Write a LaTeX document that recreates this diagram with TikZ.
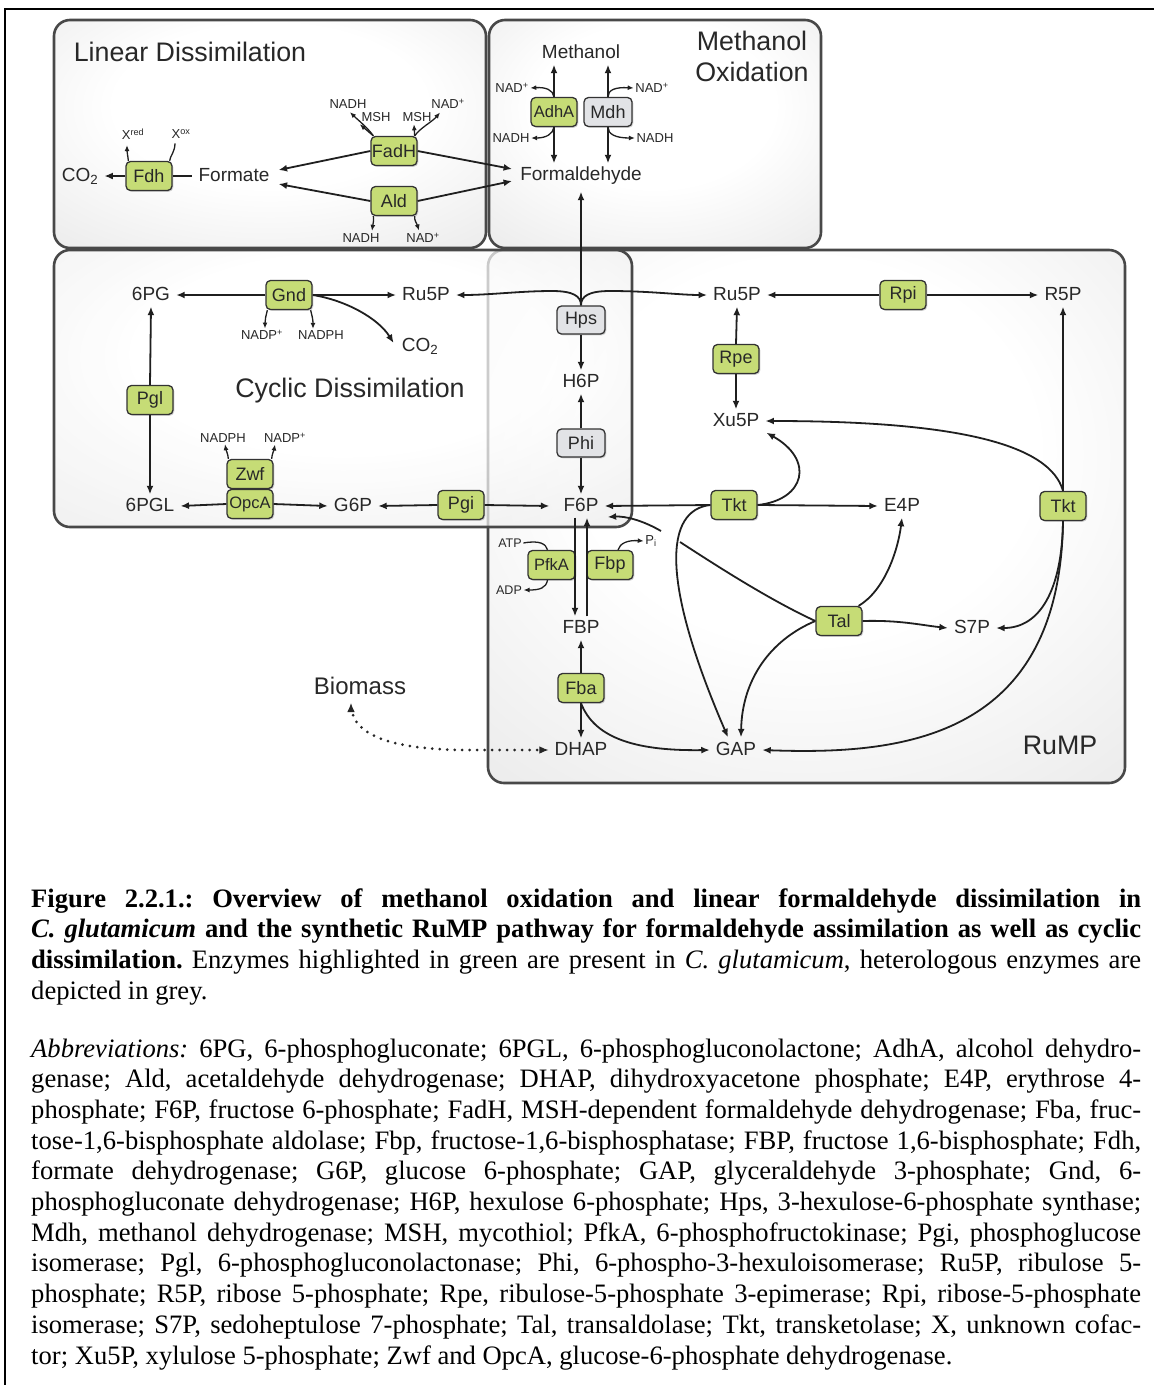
\documentclass[tikz,border=0pt]{standalone}
\usepackage{fontspec}
\setmainfont{Liberation Serif}
\newfontfamily\sfd{Liberation Sans}
\usetikzlibrary{arrows.meta,calc,shadows}
\definecolor{enzg}{RGB}{198,220,118}
\definecolor{enzgr}{RGB}{226,227,230}
\definecolor{boxln}{RGB}{72,72,72}
\definecolor{txt}{RGB}{40,40,40}
\newcommand\fsz[1]{\fontsize{#1}{#1}\selectfont}
\pgfdeclareradialshading{boxshade}{\pgfpoint{0bp}{8bp}}{color(0bp)=(white); color(18bp)=(white); color(45bp)=(black!10); color(60bp)=(black!17); color(80bp)=(black!24)}
\frenchspacing
\begin{document}
\begin{tikzpicture}[x=1pt,y=-1pt,
  region/.style={rounded corners=16pt, line width=2.6pt, draw=boxln, shading=boxshade},
  enz/.style={draw=black!80, line width=1.3pt, rounded corners=4.5pt, fill=enzg, minimum width=46pt, minimum height=29pt, inner sep=0pt, font=\sfd\fsz{18}, text=txt, drop shadow={shadow xshift=1.3pt, shadow yshift=-1.3pt, opacity=0.35}},
  henz/.style={enz, fill=enzgr},
  met/.style={font=\sfd\fsz{19}, text=txt, inner xsep=6pt, inner ysep=3pt, text height=13.5pt, text depth=3.5pt},
  cof/.style={font=\sfd\fsz{13}, text=txt, inner sep=1.5pt},
  ttl/.style={font=\sfd\fsz{26.8}, text=txt, inner sep=0pt},
  arr/.style={line width=1.8pt, draw=black!88, -{Latex[length=8.5pt,width=7pt]}},
  ln/.style={line width=1.8pt, draw=black!88},
  carr/.style={line width=1.3pt, draw=black!88, -{Latex[length=6pt,width=5pt]}},
  cln/.style={line width=1.3pt, draw=black!88},
  dots/.style={line width=3pt, draw=black!85, dash pattern=on 0pt off 7.5pt, line cap=round},
  capt/.style={anchor=base west, inner sep=0pt, font=\fsz{26.6}},
]
\useasboundingbox (0,0) rectangle (1154,1385);
\fill[white] (0,0) rectangle (1154,1385);
\draw[line width=2pt] (5,1385) -- (5,9) -- (1154,9);

% regions
\shadedraw[region] (488,250) rectangle (1125,783);
\shadedraw[region, fill opacity=0.72] (54,250) rectangle (632,527);
\shadedraw[region] (54,20) rectangle (486,248);
\shadedraw[region] (489,20) rectangle (821,248);

% titles
\node[ttl] (tld) at (190,52) {Linear Dissimilation};
\node[ttl] (tmo1) at (752,41) {Methanol};
\node[ttl] (tmo2) at (752,72) {Oxidation};
\node[ttl] (tcd) at (350,391) {Cyclic Dissimilation};
\node[ttl] (trm) at (1060,745) {RuMP};
\node[font=\sfd\fsz{24}, text=txt, inner sep=3pt] (bio) at (360,686) {Biomass};

% linear dissimilation
\node[met] (co2a) at (80,176) {CO\textsubscript{2}};
\node[enz] (fdh) at (149,176) {Fdh};
\node[met] (formate) at (234,176) {Formate};
\node[cof] (xred) at (133,134) {X\textsuperscript{red}};
\node[cof] (xox) at (181,134) {X\textsuperscript{ox}};
\node[enz] (fadh) at (394,151) {FadH};
\node[enz] (ald) at (394,201) {Ald};
\node[cof] (nadh1) at (348,104) {NADH};
\node[cof] (msh1) at (376,117) {MSH};
\node[cof] (msh2) at (417,117) {MSH};
\node[cof] (nad1) at (448,104) {NAD\textsuperscript{+}};
\node[cof] (nadh2) at (361,238) {NADH};
\node[cof] (nad2) at (423,238) {NAD\textsuperscript{+}};

% methanol oxidation
\node[met] (meoh) at (581,53) {Methanol};
\node[enz, font=\sfd\fsz{16.5}] (adha) at (554,112) {AdhA};
\node[henz, minimum width=48pt] (mdh) at (608,112) {Mdh};
\node[cof] (nad3) at (512,88) {NAD\textsuperscript{+}};
\node[cof] (nadh3) at (511,138) {NADH};
\node[cof] (nad4) at (652,88) {NAD\textsuperscript{+}};
\node[cof] (nadh4) at (655,138) {NADH};
\node[met] (fald) at (581,175) {Formaldehyde};

% cyclic dissimilation
\node[met] (pg6) at (151,295) {6PG};
\node[enz] (gnd) at (289,295) {Gnd};
\node[met] (ru5pa) at (426,295) {Ru5P};
\node[cof] (nadp5) at (262,335) {NADP\textsuperscript{+}};
\node[cof] (nadph5) at (321,335) {NADPH};
\node[met] (co2b) at (420,346) {CO\textsubscript{2}};
\node[enz] (pgl) at (150,400) {Pgl};
\node[met] (pgl6) at (150,506) {6PGL};
\node[enz] (zwf) at (250,474) {Zwf};
\node[enz, font=\sfd\fsz{16.5}] (opca) at (250,504) {OpcA};
\node[cof] (nadph6) at (223,438) {NADPH};
\node[cof] (nadp6) at (285,438) {NADP\textsuperscript{+}};
\node[met] (g6p) at (353,506) {G6P};
\node[enz] (pgi) at (461,505) {Pgi};

% RuMP
\node[henz, minimum width=48pt, minimum height=28pt] (hps) at (581,320) {Hps};
\node[met] (h6p) at (581,382) {H6P};
\node[henz, minimum width=48pt, minimum height=28pt] (phi) at (581,443) {Phi};
\node[met] (f6p) at (581,506) {F6P};
\node[met] (ru5pb) at (737,295) {Ru5P};
\node[enz] (rpi) at (903,295) {Rpi};
\node[met] (r5p) at (1063,295) {R5P};
\node[enz] (rpe) at (736,359) {Rpe};
\node[met] (xu5p) at (736,421) {Xu5P};
\node[enz] (tkt1) at (734,505) {Tkt};
\node[met] (e4p) at (902,506) {E4P};
\node[enz] (tkt2) at (1063,506) {Tkt};
\node[enz, font=\sfd\fsz{16.5}, minimum width=47pt] (pfka) at (551.5,565) {PfkA};
\node[enz] (fbp) at (610,565) {Fbp};
\node[cof, font=\sfd\fsz{12.5}] (atp) at (510,543) {ATP};
\node[cof, font=\sfd\fsz{12.5}] (adp) at (509,590) {ADP};
\node[cof] (pi) at (651,541) {P\textsubscript{i}};
\node[met] (fbpm) at (581,628) {FBP};
\node[enz] (tal) at (839,621) {Tal};
\node[met] (s7p) at (972,628) {S7P};
\node[enz] (fba) at (581,688) {Fba};
\node[met] (dhap) at (581,750) {DHAP};
\node[met] (gap) at (736,750) {GAP};

% ---- connectors: linear
\draw[arr] (fdh.west) -- (co2a.east);
\draw[ln] (fdh.east) -- (formate.west);
\draw[carr] ($(fdh.north west)+(3,0)$) .. controls (128,156) and (127,153) .. ($(xred.south)+(-6,4)$);
\draw[cln] ($(fdh.north east)+(-3,0)$) .. controls (170,156) and (175,152) .. ($(xox.south)+(-6,3)$);
\draw[arr] (fadh.west) -- ($(formate.east)+(3,-6)$);
\draw[arr] (ald.west) -- ($(formate.east)+(3,8)$);
\draw[arr] (fadh.east) -- ($(fald.west)+(-2,-6)$);
\draw[arr] (ald.east) -- ($(fald.west)+(-2,6)$);
\draw[carr] ($(fadh.north west)+(3,0)$) .. controls (368,128) and (358,120) .. ($(nadh1.south)+(2,2)$);
\draw[carr] ($(fadh.north west)+(3,0)$) -- ($(msh1.south west)+(0,1)$);
\draw[carr] ($(fadh.north east)+(-3,0)$) -- ($(msh2.south)+(-3,1)$);
\draw[carr] ($(fadh.north east)+(-3,0)$) .. controls (420,128) and (432,122) .. ($(nad1.south)+(-8,2)$);
\draw[carr] ($(ald.south west)+(3,0)$) .. controls (374,220) and (373,224) .. ($(nadh2.north)+(11,-1)$);
\draw[carr] ($(ald.south east)+(-3,0)$) .. controls (414,220) and (417,224) .. ($(nad2.north)+(-4,-1)$);

% ---- methanol oxidation
\draw[arr] (adha.north) -- (adha.north |- meoh.south);
\draw[arr] (adha.south) -- (adha.south |- fald.north);
\draw[arr] (mdh.north) -- (mdh.north |- meoh.south);
\draw[arr] (mdh.south) -- (mdh.south |- fald.north);
\draw[carr] (adha.north) .. controls (553,90) and (546,87) .. (nad3.east);
\draw[carr] (adha.south) .. controls (553,134) and (546,138) .. (nadh3.east);
\draw[carr] (mdh.north) .. controls (608,90) and (615,87) .. (nad4.west);
\draw[carr] (mdh.south) .. controls (608,134) and (615,138) .. (nadh4.west);
\draw[arr] (hps.north) -- ($(fald.south)+(0,5)$);
\draw[arr] (hps.north) .. controls (581,296) and (573,291) .. (552,291) .. controls (520,291) and (490,295) .. (ru5pa.east);
\draw[arr] (hps.north) .. controls (581,296) and (589,291) .. (610,291) .. controls (650,291) and (680,295) .. (ru5pb.west);

% ---- cyclic
\draw[arr] (gnd.west) -- (pg6.east);
\draw[arr] (gnd.east) -- (ru5pa.west);
\draw[arr] (gnd.east) .. controls (345,300) and (378,318) .. ($(co2b.west)+(-2,-3)$);
\draw[carr] ($(gnd.south west)+(2,0)$) .. controls (266,316) and (265,319) .. ($(nadp5.north)+(3,0)$);
\draw[carr] ($(gnd.south east)+(-2,0)$) .. controls (312,316) and (313,319) .. ($(nadph5.north)+(-8,0)$);
\draw[arr] (pgl.north) -- (pg6.south);
\draw[arr] (pgl.south) -- (pgl6.north);
\draw[carr] ($(zwf.north west)+(2,0)$) .. controls (228,454) and (226,450) .. ($(nadph6.south)+(2,0)$);
\draw[carr] ($(zwf.north east)+(-2,0)$) .. controls (272,454) and (274,450) .. ($(nadp6.south)+(-10,0)$);
\draw[arr] (opca.west) -- (pgl6.east);
\draw[arr] (opca.east) -- (g6p.west);
\draw[arr] (pgi.west) -- (g6p.east);
\draw[arr] (pgi.east) -- ($(f6p.west)+(-8,0)$);

% ---- RuMP
\draw[arr] (hps.south) -- (h6p.north);
\draw[arr] (phi.north) -- (h6p.south);
\draw[arr] (phi.south) -- (f6p.north);
\draw[arr] (rpi.west) -- (ru5pb.east);
\draw[arr] (rpi.east) -- (r5p.west);
\draw[arr] (rpe.north) -- (ru5pb.south);
\draw[arr] (rpe.south) -- (xu5p.north);
\draw[arr] (tkt1.west) -- (f6p.east);
\draw[arr] (tkt1.east) -- (e4p.west);
\draw[arr] (tkt1.east) .. controls (805,500) and (815,460) .. ($(xu5p.south east)+(1,0)$);
\draw[arr] (tkt1.west) .. controls (665,510) and (660,580) .. ($(gap.north)+(-8,-1)$);
\draw[arr] (tkt2.north) -- (r5p.south);
\draw[arr] (tkt2.north) .. controls (1050,445) and (960,421) .. (xu5p.east);
\draw[arr] (tkt2.south) .. controls (1062,590) and (1040,628) .. (s7p.east);
\draw[arr] (tkt2.south) .. controls (1060,740) and (900,755) .. (gap.east);
\draw[arr] (tal.east) .. controls (900,620) and (920,625) .. (s7p.west);
\draw[arr] ($(tal.north east)+(-4,0)$) .. controls (885,590) and (898,550) .. (e4p.south);
\draw[arr] (tal.west) .. controls (770,640) and (742,680) .. ($(gap.north)+(5,-1)$);
\coordinate (brk1) at (680,542);
\coordinate (brk2) at (661,531);
\draw[ln] (tal.west) .. controls (770,600) and (720,568) .. (brk1);
\draw[arr] (brk2) .. controls (642,520) and (625,516) .. ($(f6p.east)+(3,11)$);
\draw[arr] ($(f6p.south)+(-6,0)$) -- ($(fbpm.north)+(-6,0)$);
\draw[arr] ($(fbpm.north)+(6,0)$) -- ($(f6p.south)+(6,0)$);
\draw[cln] (atp.east) .. controls (540,540) and (546,544) .. ($(pfka.north)+(-4,0)$);
\draw[carr] ($(pfka.south)+(-4,0)$) .. controls (546,588) and (540,590) .. (adp.east);
\draw[carr] ($(fbp.north)+(8,0)$) .. controls (620,543) and (628,540) .. (pi.west);
\draw[arr] (fba.north) -- (fbpm.south);
\draw[arr] (fba.south) -- (dhap.north);
\draw[arr] (fba.south) .. controls (595,740) and (640,751) .. (gap.west);
\draw[dots] ($(bio.south)+(-9,10)$) .. controls (355,735) and (390,750) .. (470,750) -- ($(dhap.west)+(-6,0)$);
\draw[line width=1pt, draw=black!85, -{Latex[length=9pt,width=7.5pt]}] ($(bio.south)+(-9,13)$) -- ($(bio.south)+(-9,5)$);
\draw[line width=1pt, draw=black!85, -{Latex[length=9pt,width=7.5pt]}] ($(dhap.west)+(-7,0)$) -- (dhap.west);

% ---- caption
\node[capt] (cap1) at (31,907) {\makebox[1110pt][s]{\bfseries Figure 2.2.1.: Overview of methanol oxidation and linear formaldehyde dissimilation in}};
\node[capt] (cap2) at (31,937.7) {\makebox[1110pt][s]{\bfseries\itshape C. glutamicum\upshape{} and the synthetic RuMP pathway for formaldehyde assimilation as well as cyclic}};
\node[capt] (cap3) at (31,968.4) {\makebox[1110pt][s]{\bfseries dissimilation.\mdseries{} Enzymes highlighted in green are present in \textit{C. glutamicum}, heterologous enzymes are}};
\node[capt] (cap4) at (31,999.1) {depicted in grey.};
\node[capt] (ab1) at (31,1057) {\makebox[1110pt][s]{\textit{Abbreviations:} 6PG, 6-phosphogluconate; 6PGL, 6-phosphogluconolactone; AdhA, alcohol dehydro-}};
\node[capt] (ab2) at (31,1087.7) {\makebox[1110pt][s]{genase; Ald, acetaldehyde dehydrogenase; DHAP, dihydroxyacetone phosphate; E4P, erythrose 4-}};
\node[capt] (ab3) at (31,1118.4) {\makebox[1110pt][s]{phosphate; F6P, fructose 6-phosphate; FadH, MSH-dependent formaldehyde dehydrogenase; Fba, fruc-}};
\node[capt] (ab4) at (31,1149.1) {\makebox[1110pt][s]{tose-1,6-bisphosphate aldolase; Fbp, fructose-1,6-bisphosphatase; FBP, fructose 1,6-bisphosphate; Fdh,}};
\node[capt] (ab5) at (31,1179.8) {\makebox[1110pt][s]{formate dehydrogenase; G6P, glucose 6-phosphate; GAP, glyceraldehyde 3-phosphate; Gnd, 6-}};
\node[capt] (ab6) at (31,1210.5) {\makebox[1110pt][s]{phosphogluconate dehydrogenase; H6P, hexulose 6-phosphate; Hps, 3-hexulose-6-phosphate synthase;}};
\node[capt] (ab7) at (31,1241.2) {\makebox[1110pt][s]{Mdh, methanol dehydrogenase; MSH, mycothiol; PfkA, 6-phosphofructokinase; Pgi, phosphoglucose}};
\node[capt] (ab8) at (31,1271.9) {\makebox[1110pt][s]{isomerase; Pgl, 6-phosphogluconolactonase; Phi, 6-phospho-3-hexuloisomerase; Ru5P, ribulose 5-}};
\node[capt] (ab9) at (31,1302.6) {\makebox[1110pt][s]{phosphate; R5P, ribose 5-phosphate; Rpe, ribulose-5-phosphate 3-epimerase; Rpi, ribose-5-phosphate}};
\node[capt] (ab10) at (31,1333.3) {\makebox[1110pt][s]{isomerase; S7P, sedoheptulose 7-phosphate; Tal, transaldolase; Tkt, transketolase; X, unknown cofac-}};
\node[capt] (ab11) at (31,1364) {tor; Xu5P, xylulose 5-phosphate; Zwf and OpcA, glucose-6-phosphate dehydrogenase.};
\end{tikzpicture}
\end{document}
